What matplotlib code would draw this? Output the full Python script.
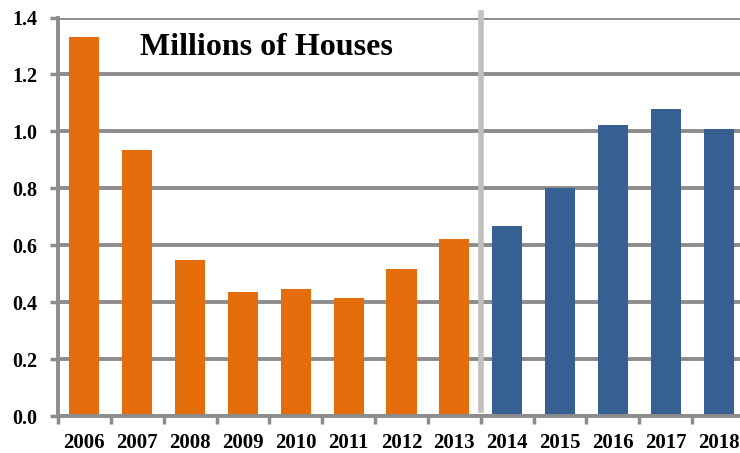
import matplotlib.pyplot as plt
import numpy as np

years = ["2006", "2007", "2008", "2009", "2010", "2011", "2012",
         "2013", "2014", "2015", "2016", "2017", "2018"]
houses = [1.33, 0.935, 0.547, 0.434, 0.445, 0.413, 0.515,
          0.623, 0.669, 0.80, 1.022, 1.078, 1.008]
n_actual = 8  # 2006-2013 actual, rest forecast

plt.rcParams['font.family'] = ['Liberation Serif', 'DejaVu Serif']
plt.rcParams['font.weight'] = 'bold'

fig = plt.figure(figsize=(7.4, 4.53), dpi=100)
ax = fig.add_axes([58 / 740, 1 - 416 / 453, 687 / 740, (416 - 17.5) / 453])

x = np.arange(len(years))
colors = ["#E46C0A"] * n_actual + ["#366092"] * (len(years) - n_actual)
ax.bar(x, houses, width=0.57, color=colors, zorder=3)

ax.set_xlim(-0.5, len(years) - 0.5)
ax.set_ylim(0, 1.4)
ax.set_yticks(np.arange(0, 1.41, 0.2))
ax.set_yticklabels([f"{v:.1f}" for v in np.arange(0, 1.41, 0.2)], fontsize=14.5, fontweight='bold')
ax.set_xticks(np.arange(-0.5, len(years), 1))
ax.set_xticklabels([])
ax.set_xticks(x, minor=True)
ax.set_xticklabels(years, minor=True, fontsize=15, fontweight='bold')
ax.tick_params(axis='x', which='minor', length=0, pad=12)
ax.tick_params(axis='x', which='major', length=6, width=2.5, color='#8c8c8c', direction='out')
ax.tick_params(axis='y', length=6, width=2.5, color='#8c8c8c', pad=9)

ax.grid(axis='y', color='#8c8c8c', linewidth=2.8, zorder=1)
for s in ['top', 'right']:
    ax.spines[s].set_visible(False)
for s in ['left', 'bottom']:
    ax.spines[s].set_color('#8c8c8c')
    ax.spines[s].set_linewidth(2.8)
    ax.spines[s].set_zorder(4)

# divider between actual and forecast
ax.plot([n_actual - 0.5, n_actual - 0.5], [0.02, 1.415], color='#c0c0c0',
        linewidth=4, clip_on=False, zorder=2)

ax.text(1.05, 1.295, "Millions of Houses", fontsize=23, fontweight='bold',
        ha='left', va='center')

fig.savefig("out.png", dpi=100)
